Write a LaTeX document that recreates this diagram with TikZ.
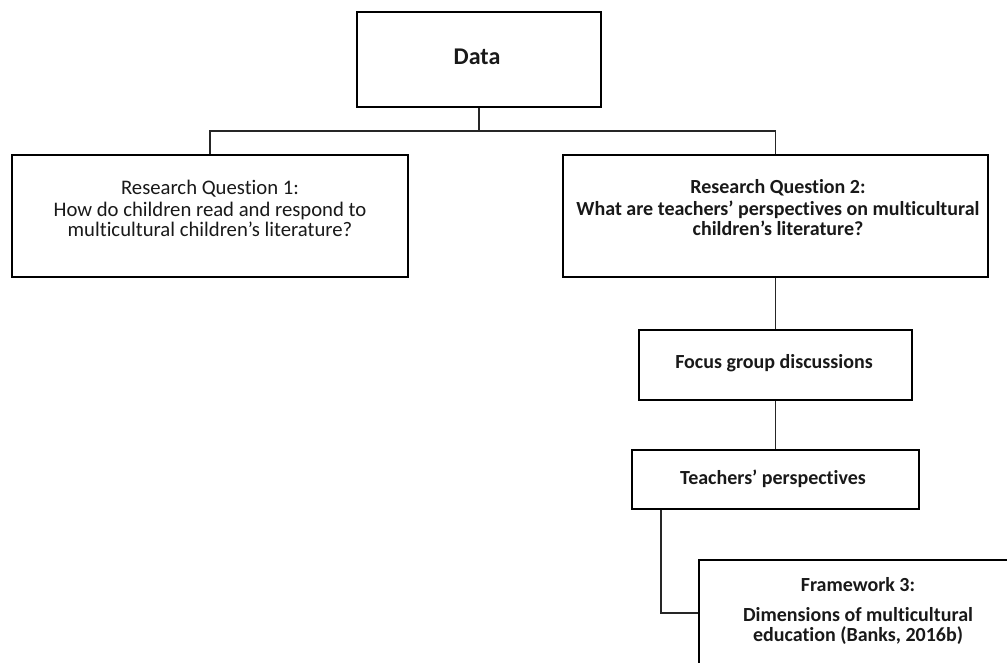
\documentclass[tikz,border=0pt]{standalone}
\usepackage{fontspec}
\setmainfont{Carlito}[Ligatures=NoCommon]
\begin{document}
\begin{tikzpicture}[x=1pt,y=-1pt,
  box/.style={draw=black, line width=1.1pt, rectangle, inner sep=0pt, fill=white},
  wire/.style={draw=black!85, line width=1.1pt},
  txt/.style={align=center, font=\fontsize{20.7}{20}\selectfont, text=black!90, inner sep=0pt},
  btxt/.style={txt, font=\fontsize{20}{20}\selectfont\bfseries}]
\useasboundingbox (0,0) rectangle (1007,663);
\fill[white] (0,0) rectangle (1007,663);

% boxes
\node[box, minimum width=244pt, minimum height=95pt] (data) at (479,59.5) {};
\node[box, minimum width=396pt, minimum height=122pt] (rq1) at (210,216) {};
\node[box, minimum width=425pt, minimum height=122pt] (rq2) at (775.5,216) {};
\node[box, minimum width=273pt, minimum height=70pt] (focus) at (775.5,365) {};
\node[box, minimum width=287pt, minimum height=59pt] (teach) at (775.5,479.5) {};
\node[box, minimum width=318pt, minimum height=150pt] (frame) at (858,635) {};

% texts
\node[txt, font=\fontsize{24}{24}\selectfont\bfseries] (datat) at (477,57) {Data};
\node[txt] (rq1t) at (210,208) {Research Question 1:\\[2pt]How do children read and respond to\\multicultural children’s literature?};
\node[btxt] (rq2t) at (778,208) {Research Question 2:\\[2pt]What are teachers’ perspectives on multicultural\\children’s literature?};
\node[btxt] (focust) at (774,363) {Focus group discussions};
\node[btxt] (teacht) at (773,479) {Teachers’ perspectives};
\node[btxt] (framet) at (858,611) {Framework 3:\\[10pt]Dimensions of multicultural\\education (Banks, 2016b)};

% connectors
\coordinate (split) at (479,131);
\path[wire] (data.south) -- (split);
\path[wire] (rq1.north) |- (split) -| (rq2.north);
\path[wire] (rq2.south) -- (focus.north);
\path[wire] (focus.south) -- (teach.north);
\path[wire] ([xshift=-114.5pt]teach.south) |- (frame.west |- 0,613);
\end{tikzpicture}
\end{document}
